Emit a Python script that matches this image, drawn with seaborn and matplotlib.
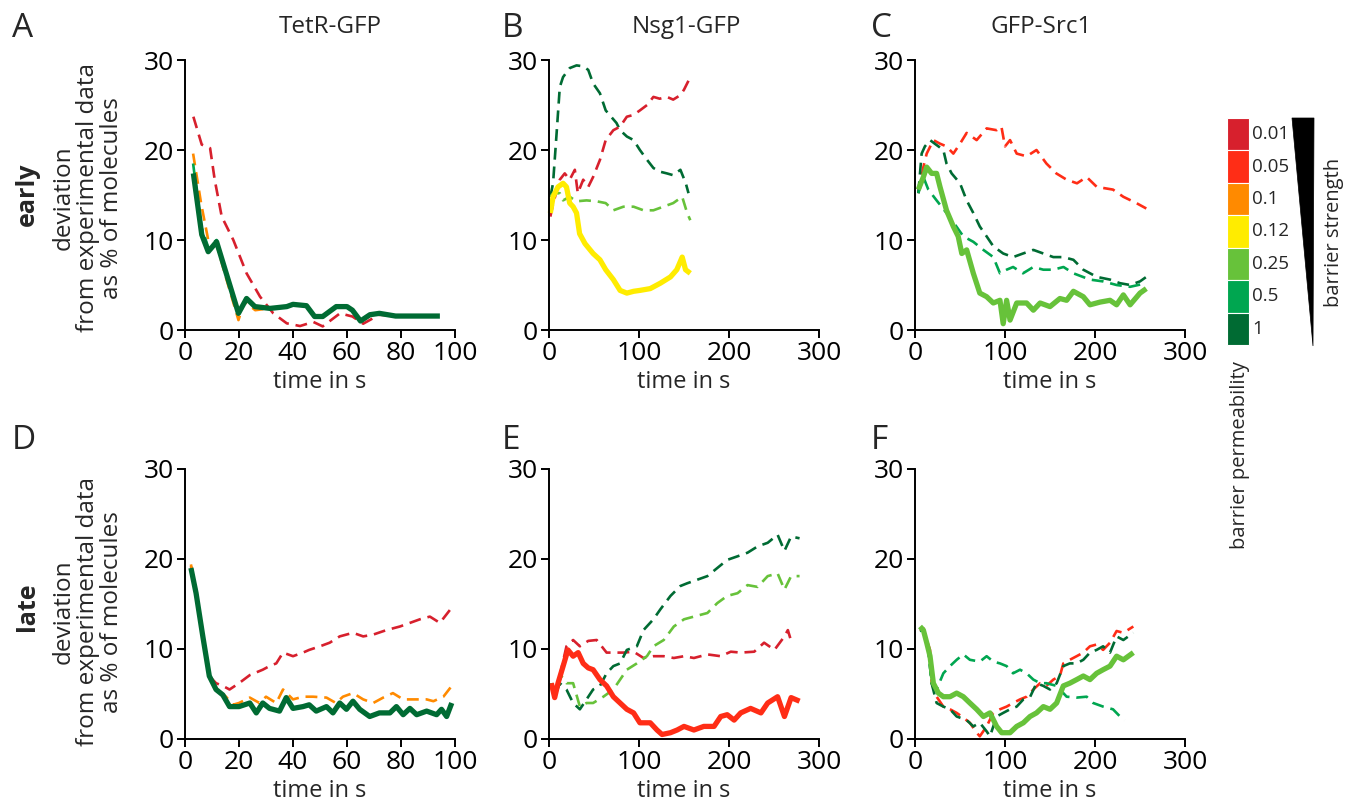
import matplotlib
matplotlib.use("Agg")
import matplotlib.pyplot as plt
import seaborn as sns
from matplotlib.patches import Polygon, Rectangle

# ---------------- colours / legend categories ----------------
perm_labels = ["0.01", "0.05", "0.1", "0.12", "0.25", "0.5", "1"]
perm_colors = ["#d7202d", "#ff2d16", "#ff8a00", "#ffec00", "#67c23a", "#00a650", "#006b33"]
COL = dict(zip(perm_labels, perm_colors))

panel_titles = ["TetR-GFP", "Nsg1-GFP", "GFP-Src1"]
panel_letters = ["A", "B", "C", "D", "E", "F"]
row_labels = ["early", "late"]

# ---------------- Panel A (TetR-GFP, early) ----------------
A_t_001 = [3.1, 6.2, 9.3, 11, 13.6, 17.9, 22.8, 27.8, 32.7, 37.7, 42.6, 47.5, 51, 57.4, 62, 66, 72, 80, 94]
A_v_001 = [23.7, 20.6, 20.2, 16.7, 12.6, 10, 6.3, 3.7, 1.85, 0.74, 0.44, 0.9, 0.4, 1.85, 1.5, 0.7, 1.7, 1.5, 1.55]
A_t_01 = [3, 6, 8.6, 11.7, 15, 19.8, 22, 26, 31, 38, 40, 45, 48, 51, 56, 60, 62, 65, 68.5, 72, 78, 94]
A_v_01 = [19.6, 14, 10, 9.5, 6, 1.1, 3.2, 2.2, 2.4, 2.6, 2.8, 2.6, 1.4, 1.5, 2.5, 2.6, 2.1, 0.9, 1.6, 1.8, 1.5, 1.5]
A_t_05 = [3, 6, 8.6, 11.7, 19.8, 22.8, 25.9]
A_v_05 = [18.5, 11.5, 9.2, 10, 1.9, 3.4, 2.6]
A_t_1 = [3.1, 6.2, 8.6, 11.7, 19.8, 22.8, 25.9, 31.5, 37.7, 40, 45, 48, 51, 56, 60, 62, 65, 68.5, 72, 78, 94.4]
A_v_1 = [17.4, 10.6, 8.7, 9.8, 1.85, 3.5, 2.6, 2.4, 2.6, 2.85, 2.7, 1.5, 1.5, 2.6, 2.6, 2.2, 1.0, 1.7, 1.85, 1.55, 1.55]

# ---------------- Panel B (Nsg1-GFP, early) ----------------
B_t_1 = [1.5, 4.5, 8.2, 12, 15.6, 23, 30.6, 38, 43.6, 49, 56.6, 63, 75, 79, 86.5, 94, 101, 109, 116, 123, 131, 138, 146, 152, 155]
B_v_1 = [14.8, 16.3, 21.5, 27, 28.1, 29.1, 29.4, 29.3, 28.9, 27.4, 26.3, 24.4, 23, 22.2, 21.5, 21.1, 20, 18.9, 18, 17.6, 17.4, 17.2, 17.8, 16.3, 15.2]
B_t_001 = [1.5, 4.5, 12, 17.5, 23, 28.7, 32, 38, 43.6, 49, 56.6, 63, 71.5, 79, 86.5, 94, 101, 109, 116, 123, 131, 138, 146, 150, 157]
B_v_001 = [12.6, 14, 16.7, 17.4, 16.7, 17.8, 15.2, 16.7, 15.9, 17, 18.9, 21.1, 22.2, 22.6, 23.7, 23.9, 24.4, 25, 25.9, 25.7, 25.9, 25.6, 26.1, 26.7, 28.1]
B_t_025 = [1.5, 4.5, 12, 15.6, 23, 30.6, 41.7, 53, 63, 71.5, 82.7, 94, 105, 116, 127, 138, 148, 153.5, 157]
B_v_025 = [14.8, 15.2, 15.2, 14.4, 14.8, 14.3, 14.4, 14.3, 14.1, 13.3, 13.7, 13.7, 13.3, 13.3, 13.7, 14.1, 14.8, 13.0, 12.2]
B_t_012 = [1.5, 4.5, 10, 15.6, 19.4, 23, 26.8, 30.6, 34, 40, 49, 56.6, 63, 71.5, 79, 86.5, 94, 101, 112.5, 123.7, 135, 142, 148, 151.7, 157]
B_v_012 = [13, 14.8, 15.9, 16.3, 15.9, 14.1, 13.7, 13, 10.7, 9.6, 8.5, 7.8, 6.7, 5.6, 4.4, 4.1, 4.3, 4.4, 4.6, 5.2, 5.9, 6.7, 8.1, 6.7, 6.3]

# ---------------- Panel C (GFP-Src1, early) ----------------
C_t_005 = [3.7, 9.3, 13, 20.4, 27.8, 35, 42.6, 50, 57.4, 68.5, 79.6, 90.7, 96, 100, 105.6, 113, 124, 135, 146, 157, 168.5, 180, 190.7, 202, 220, 231.5, 246, 257]
C_v_005 = [15.2, 18.1, 19.6, 21.1, 20.7, 20.4, 19.6, 20.7, 21.9, 21.1, 22.4, 22.2, 22.6, 20.4, 21.1, 19.6, 19.3, 20, 18.5, 17.4, 16.7, 16.3, 17, 15.9, 15.6, 14.8, 14.1, 13.5]
C_t_1 = [3.7, 7.4, 11, 16.7, 22, 31.5, 35, 40.7, 50, 57.4, 64.8, 72, 79.6, 87, 98, 109, 120, 131.5, 142.6, 153.7, 165, 176, 187, 202, 216.7, 227.8, 239, 250, 257]
C_v_1 = [15.2, 19.6, 20.4, 21.1, 20.7, 20, 18.5, 17.4, 16.3, 14.4, 13, 11.5, 10.4, 9.3, 8.5, 8.1, 8.5, 8.9, 8.5, 8.1, 8.1, 7.8, 6.7, 5.9, 5.6, 5.2, 5.0, 5.4, 5.9]
C_t_05 = [3.7, 9.3, 14.8, 24, 35, 46, 53.7, 64.8, 76, 87, 94.4, 101.8, 109, 120, 131.5, 142.6, 153.7, 165, 176, 194.4, 209, 224, 239, 257]
C_v_05 = [15.2, 17, 15.6, 14.4, 13, 11.5, 10.4, 9.8, 8.9, 8.1, 6.3, 6.7, 7.0, 6.3, 7.0, 6.7, 6.7, 7.0, 6.3, 5.6, 5.4, 5.0, 4.8, 5.2]
C_t_025 = [3.7, 9.3, 13, 18.5, 24, 27.8, 35, 42.6, 48, 52, 57.4, 64.8, 72, 79.6, 87, 94.4, 98, 101.8, 105.6, 113, 124, 131.5, 139, 150, 161, 168.5, 176, 187, 194.4, 205.6, 216.7, 224, 231.5, 239, 250, 257]
C_v_025 = [15.6, 17, 18.1, 17.4, 17.4, 15.9, 13.3, 11.5, 10.4, 8.5, 8.9, 6.3, 4.1, 3.7, 3.0, 3.3, 0.7, 3.3, 1.1, 3.0, 3.0, 2.2, 3.0, 2.6, 3.5, 3.3, 4.3, 3.7, 2.8, 3.1, 3.3, 2.8, 3.9, 2.8, 4.1, 4.6]

# ---------------- Panel D (TetR-GFP, late) ----------------
D_t_001 = [2.2, 4.1, 6.6, 9, 11.5, 14, 16.5, 20, 24, 26.4, 28.8, 31.3, 33.8, 36.3, 40, 43.7, 46, 50, 53.6, 57.3, 62.2, 66, 69.7, 74.6, 79.6, 83.3, 87, 90.7, 94.4, 98.8]
D_v_001 = [19.2, 16.6, 11.4, 7.0, 6.2, 5.9, 5.5, 6.2, 7.1, 7.4, 7.7, 8.1, 8.4, 9.6, 9.2, 9.6, 9.9, 10.3, 10.7, 11.4, 11.8, 11.4, 11.6, 12.1, 12.5, 12.9, 13.3, 13.6, 12.9, 14.6]
D_t_01 = [2.2, 4.1, 6.6, 9, 11.5, 15.2, 17.7, 20, 24, 27.6, 30, 33.8, 36.3, 40, 43.7, 47.4, 52.4, 55.9, 58.5, 62.2, 66, 69.7, 73.4, 77, 80.8, 84.5, 89.5, 92, 95.7, 98.8]
D_v_01 = [19.4, 16.3, 11.4, 7.0, 5.6, 4.7, 3.8, 4.0, 4.6, 4.0, 4.7, 4.0, 5.5, 4.4, 4.7, 4.7, 4.6, 4.0, 4.7, 5.1, 4.4, 4.0, 4.6, 5.1, 4.4, 4.4, 4.4, 4.2, 4.7, 5.9]
D_t_1 = [2.2, 4.1, 6.6, 9, 11.5, 14, 16.5, 20, 24, 26.4, 28.8, 31.3, 35, 37.5, 40, 43.7, 46, 48.6, 52.4, 54.8, 57.3, 59.8, 62.2, 64.7, 68.4, 72, 75.9, 78.3, 80.8, 83.3, 85.8, 89.5, 93.2, 95, 96.9, 98.8]
D_v_1 = [19.0, 16.2, 11.4, 7.0, 5.5, 4.9, 3.6, 3.6, 4.0, 2.9, 4.0, 3.4, 3.1, 4.6, 3.4, 3.6, 3.8, 3.1, 3.6, 2.9, 4.0, 3.3, 4.2, 3.3, 2.5, 2.9, 2.9, 3.6, 2.7, 3.4, 2.7, 3.1, 2.7, 3.3, 2.5, 4.0]

# ---------------- Panel E (Nsg1-GFP, late) ----------------
E_t_005 = [2.6, 6.3, 10, 15.7, 21, 26.8, 32.4, 38, 43.6, 49, 56.6, 64, 71.5, 79, 86.5, 94, 101, 112.5, 120, 125.6, 135, 142.4, 150, 161, 172, 183.4, 190.8, 198, 205.7, 213, 224, 235.5, 243, 254, 261.6, 269, 278.4]
E_v_005 = [6.2, 4.6, 6.2, 8.1, 9.9, 9.2, 9.6, 8.4, 7.9, 7.7, 6.6, 5.9, 4.7, 4.0, 3.3, 2.9, 1.8, 1.8, 1.0, 0.5, 0.7, 1.0, 1.4, 1.0, 1.4, 1.4, 2.5, 2.7, 2.1, 2.9, 3.4, 2.9, 4.0, 4.7, 2.5, 4.6, 4.2]
E_t_001 = [2.6, 6.3, 12, 19.4, 26.8, 34.3, 43.6, 53, 64, 71.5, 82.7, 94, 105, 116, 127.5, 138.7, 150, 161, 176, 190.8, 202, 213, 228, 239, 250.5, 261.6, 265.4, 269]
E_v_001 = [6.2, 4.6, 7.0, 10.3, 11.0, 10.3, 10.9, 11.0, 9.6, 9.6, 9.6, 9.7, 9.0, 9.2, 9.2, 9.0, 9.2, 9.0, 9.4, 9.2, 9.7, 9.6, 9.7, 10.7, 9.9, 11.4, 12.1, 10.9]
E_t_1 = [2.6, 6.3, 12, 19.4, 26.8, 34.3, 41.7, 49, 56.6, 64, 71.5, 79, 86.5, 97.6, 105, 116, 123.7, 135, 146, 153.5, 164.8, 176, 187, 198, 209.5, 220.6, 231.8, 243, 254, 261.6, 269, 278.4]
E_v_1 = [6.2, 4.7, 6.2, 5.5, 4.0, 3.3, 4.4, 5.5, 5.9, 7.3, 8.1, 8.4, 9.9, 10.3, 12.1, 13.3, 14.4, 15.9, 17.0, 17.3, 17.7, 18.1, 19.0, 19.9, 20.3, 20.7, 21.4, 21.8, 22.7, 20.9, 22.5, 22.3]
E_t_025 = [2.6, 6.3, 13.8, 19.4, 26.8, 34.3, 41.7, 49, 60.4, 71.5, 79, 86.5, 97.6, 108.8, 116, 127.5, 138.7, 150, 161, 176, 187, 198, 209.5, 220.6, 231.8, 243, 254, 261.6, 269, 278.4]
E_v_025 = [6.2, 5.1, 7.0, 6.2, 6.2, 3.6, 4.0, 4.0, 4.7, 5.5, 6.6, 7.7, 8.4, 9.2, 10.3, 11.0, 12.5, 13.3, 13.6, 14.0, 15.1, 15.9, 16.2, 17.1, 16.9, 18.1, 18.4, 16.6, 18.1, 18.1]

# ---------------- Panel F (GFP-Src1, late) ----------------
F_t_005 = [5.6, 9.3, 13, 16.7, 18.5, 24, 31.5, 38.9, 46.3, 51.9, 61, 68.5, 72, 79.6, 87, 94.4, 101.8, 109, 116.7, 124, 131.5, 139, 146, 153.7, 161, 164.8, 172, 179.6, 187, 194.4, 201.8, 209, 216.7, 224, 231.5, 242.6]
F_v_005 = [12.0, 12.3, 11.0, 9.9, 6.2, 4.7, 3.6, 3.3, 2.9, 2.5, 1.8, 0.7, 0.3, 1.4, 2.9, 3.3, 3.6, 4.0, 4.4, 4.7, 5.5, 6.2, 5.9, 6.6, 7.0, 8.4, 8.8, 9.2, 9.6, 10.3, 10.5, 9.9, 10.7, 12.0, 11.8, 12.5]
F_t_1 = [5.6, 9.3, 14.8, 18.5, 24, 31.5, 38.9, 46.3, 57.4, 64.8, 72, 79.6, 83.3, 90.7, 98, 105.6, 113, 120.4, 128, 135, 142.6, 150, 157.4, 164.8, 172, 179.6, 187, 194.4, 201.8, 209, 216.7, 224, 231.5, 242.6]
F_v_1 = [12.1, 12.0, 9.9, 6.2, 4.0, 3.6, 3.3, 2.5, 2.1, 1.4, 1.8, 0.85, 0.3, 2.5, 2.9, 3.3, 3.6, 4.4, 4.7, 6.2, 5.9, 5.5, 6.2, 8.1, 8.4, 8.4, 8.8, 9.6, 9.9, 10.3, 9.6, 11.4, 11.0, 11.8]
F_t_05 = [5.6, 9.3, 14.8, 18.5, 24, 31.5, 38.9, 46.3, 53.7, 61, 72, 79.6, 87, 94.4, 101.8, 109, 116.7, 124, 131.5, 139, 146, 157.4, 168.5, 179.6, 190.7, 198, 209, 220, 227.8, 233]
F_v_05 = [12.0, 12.1, 9.9, 6.2, 5.5, 7.3, 8.1, 8.8, 9.4, 8.8, 8.6, 9.2, 8.6, 8.4, 8.1, 7.3, 7.7, 7.3, 6.6, 6.2, 6.2, 5.9, 4.7, 4.6, 4.7, 4.0, 3.6, 3.3, 2.5, 2.1]
F_t_025 = [5.6, 9.3, 13, 16.7, 20.4, 26, 31.5, 38.9, 46.3, 53.7, 61, 68.5, 76, 83.3, 90.7, 96.3, 105.6, 113, 120.4, 127.8, 135, 142.6, 150, 157.4, 164.8, 172, 179.6, 187, 194.4, 201.8, 209, 216.7, 224, 231.5, 242.6]
F_v_025 = [12.5, 12.1, 10.7, 9.2, 6.2, 5.1, 4.7, 4.7, 5.1, 4.7, 4.0, 3.3, 2.5, 2.9, 1.4, 0.7, 0.7, 1.4, 1.8, 2.5, 2.9, 3.6, 3.3, 4.0, 5.9, 6.2, 6.6, 7.0, 6.6, 7.3, 7.7, 8.1, 9.2, 8.8, 9.6]

# series per panel: (t, v, permeability, solid?)
panels = [
    [(A_t_001, A_v_001, "0.01", False), (A_t_01, A_v_01, "0.1", False),
     (A_t_05, A_v_05, "0.5", False), (A_t_1, A_v_1, "1", True)],
    [(B_t_1, B_v_1, "1", False), (B_t_001, B_v_001, "0.01", False),
     (B_t_025, B_v_025, "0.25", False), (B_t_012, B_v_012, "0.12", True)],
    [(C_t_005, C_v_005, "0.05", False), (C_t_1, C_v_1, "1", False),
     (C_t_05, C_v_05, "0.5", False), (C_t_025, C_v_025, "0.25", True)],
    [(D_t_001, D_v_001, "0.01", False), (D_t_01, D_v_01, "0.1", False),
     (D_t_1, D_v_1, "1", True)],
    [(E_t_001, E_v_001, "0.01", False), (E_t_1, E_v_1, "1", False),
     (E_t_025, E_v_025, "0.25", False), (E_t_005, E_v_005, "0.05", True)],
    [(F_t_005, F_v_005, "0.05", False), (F_t_1, F_v_1, "1", False),
     (F_t_05, F_v_05, "0.5", False), (F_t_025, F_v_025, "0.25", True)],
]
xmax = [100, 300, 300, 100, 300, 300]
xticks_short = [0, 20, 40, 60, 80, 100]
xticks_long = [0, 100, 200, 300]
yticks = [0, 10, 20, 30]

# ---------------- drawing ----------------
sns.set_theme(style="ticks")
plt.rcParams["font.family"] = ["Open Sans", "DejaVu Sans"]

W, H = 1346, 806
fig = plt.figure(figsize=(W / 100, H / 100), dpi=100)

lefts = [185, 549, 915]
bottoms = [330, 739]
aw, ah = 270, 270

for i in range(6):
    r, c = divmod(i, 3)
    ax = fig.add_axes([lefts[c] / W, (H - bottoms[r]) / H, aw / W, ah / H])
    for t, v, perm, solid in panels[i]:
        sns.lineplot(x=t, y=v, ax=ax, color=COL[perm], estimator=None, sort=False,
                     linewidth=3.8 if solid else 1.9, clip_on=False)
        ln = ax.lines[-1]
        if not solid:
            ln.set_dashes((4.5, 2.6))
        ln.set_solid_capstyle("butt")
    ax.set_xlim(0, xmax[i])
    ax.set_ylim(0, 30)
    ax.set_xticks(xticks_short if xmax[i] == 100 else xticks_long)
    ax.set_yticks(yticks)
    sns.despine(ax=ax)
    for s in ("left", "bottom"):
        ax.spines[s].set_linewidth(1.4)
        ax.spines[s].set_color("black")
    ax.tick_params(direction="out", length=6, width=1.4, labelsize=19, colors="black", pad=2)
    ax.set_xlabel("time in s", fontsize=17, labelpad=3)
    ax.set_ylabel("")
    ax.set_facecolor("none")

# panel letters and titles
letter_pos = [(12, 37), (502, 37), (871, 37), (12, 449), (502, 449), (871, 449)]
for L, (x, y) in zip(panel_letters, letter_pos):
    fig.text(x / W, 1 - y / H, L, fontsize=24, ha="left", va="baseline")
title_x = [330, 686, 1041]
for tt, x in zip(panel_titles, title_x):
    fig.text(x / W, 1 - 33 / H, tt, fontsize=17.5, ha="center", va="baseline")

# row labels and y labels
for lab, yc in zip(row_labels, [194, 607]):
    fig.text(27 / W, 1 - yc / H, lab, fontsize=18, fontweight="bold", rotation=90,
             ha="center", va="center")
ylab = "deviation\nfrom experimental data\nas % of molecules"
for yc in [198, 612]:
    fig.text(88 / W, 1 - yc / H, ylab, fontsize=17.5, rotation=90, ha="center",
             va="center", linespacing=1.02, multialignment="center")

# legend colour boxes
lax = fig.add_axes([0, 0, 1, 1])
lax.set_xlim(0, W)
lax.set_ylim(H, 0)
lax.axis("off")
bx0, bx1, by0, by1 = 1227, 1249, 118, 345
bh = (by1 - by0) / len(perm_labels)
for k, (lab, col) in enumerate(zip(perm_labels, perm_colors)):
    y0 = by0 + k * bh
    lax.add_patch(Rectangle((bx0, y0), bx1 - bx0, bh, facecolor=col,
                            edgecolor="white", linewidth=0.8))
    lax.text(1252, y0 + bh / 2, lab, fontsize=13.5, ha="left", va="center")
lax.add_patch(Polygon([(1292, 118), (1314, 118), (1313, 346)], closed=True,
                      facecolor="black", edgecolor="black", linewidth=0.5))
lax.text(1334, 232, "barrier strength", fontsize=14.5, rotation=90, ha="center", va="center")
lax.text(1240, 455, "barrier permeability", fontsize=14.5, rotation=90, ha="center", va="center")

fig.savefig("out.png", dpi=100)
